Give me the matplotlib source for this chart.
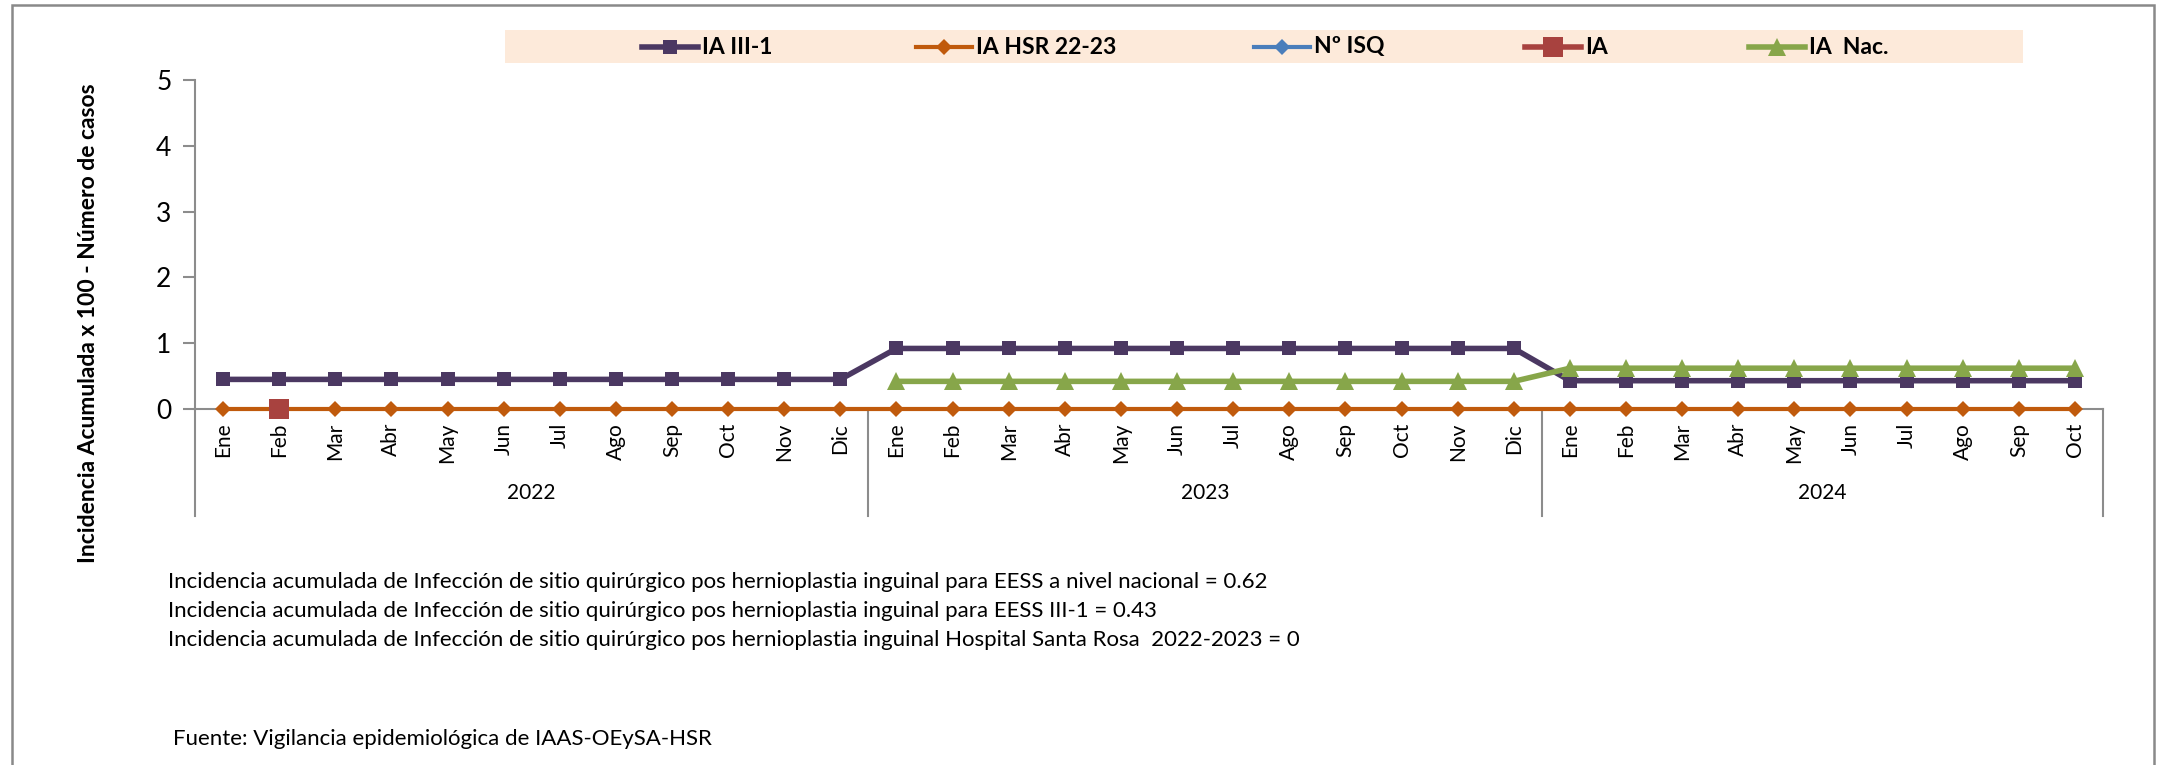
import matplotlib.pyplot as plt
from matplotlib.patches import Rectangle
from matplotlib.lines import Line2D

plt.rcParams['font.family'] = ['Lato', 'DejaVu Sans']

# Datos
meses_22 = ['Ene', 'Feb', 'Mar', 'Abr', 'May', 'Jun', 'Jul', 'Ago', 'Sep', 'Oct', 'Nov', 'Dic']
meses_23 = ['Ene', 'Feb', 'Mar', 'Abr', 'May', 'Jun', 'Jul', 'Ago', 'Sep', 'Oct', 'Nov', 'Dic']
meses_24 = ['Ene', 'Feb', 'Mar', 'Abr', 'May', 'Jun', 'Jul', 'Ago', 'Sep', 'Oct']
anios = ['2022', '2023', '2024']
meses = meses_22 + meses_23 + meses_24

ia_iii1 = [0.45] * 12 + [0.92] * 12 + [0.43] * 10
ia_hsr = [0] * 34
n_isq = [None] * 34
ia = [None, 0] + [None] * 32
ia_nac = [None] * 12 + [0.42] * 12 + [0.62] * 10

notas = [
    'Incidencia acumulada de Infección de sitio quirúrgico pos hernioplastia inguinal para EESS a nivel nacional = 0.62',
    'Incidencia acumulada de Infección de sitio quirúrgico pos hernioplastia inguinal para EESS III-1 = 0.43',
    'Incidencia acumulada de Infección de sitio quirúrgico pos hernioplastia inguinal Hospital Santa Rosa  2022-2023 = 0',
]
fuente = 'Fuente: Vigilancia epidemiológica de IAAS-OEySA-HSR'

W, H = 2158, 765
figura = plt.figure(figsize=(W / 100, H / 100), dpi=100)
figura.patches.append(Rectangle((12 / W, -0.01), (2154 - 12) / W, 1 - 5 / H + 0.01,
                                transform=figura.transFigure, fill=False,
                                edgecolor='#898989', linewidth=1.8))

ejes = figura.add_axes([195 / W, 1 - 409 / H, (2103 - 195) / W, (409 - 80) / H])
ejes.patch.set_alpha(0)
x = list(range(len(meses)))
gris = '#8c8c8c'

series = [
    ('IA III-1', ia_iii1, '#4b3862', 's', 10.5, 4.0),
    ('IA HSR 22-23', ia_hsr, '#c05a0c', 'D', 8.5, 3.0),
    ('Nº ISQ', n_isq, '#4a7ebb', 'D', 8.5, 3.0),
    ('IA', ia, '#a8423f', 's', 15, 4.0),
    ('IA  Nac.', ia_nac, '#87a64a', '^', 13, 4.0),
]
for nombre, valores, color, marcador, tam, grosor in series:
    xs = [i for i, v in zip(x, valores) if v is not None]
    ys = [v for v in valores if v is not None]
    ejes.plot(xs, ys, color=color, marker=marcador, markersize=tam, linewidth=grosor,
              markeredgewidth=0, clip_on=False, zorder=3)

ejes.set_xlim(-0.5, len(meses) - 0.5)
ejes.set_ylim(0, 5)
ejes.set_yticks(range(6))
ejes.tick_params(axis='y', direction='out', length=9, width=1.5, color=gris,
                 labelsize=19, pad=8)
ejes.set_xticks([])
for lado in ['top', 'right', 'bottom', 'left']:
    ejes.spines[lado].set_visible(False)

# eje horizontal en 0 y eje vertical extendido
abajo = -(516 - 409) / (409 - 80)
ejes.plot([-0.5, len(meses) - 0.5], [0, 0], color=gris, linewidth=1.5, clip_on=False, zorder=1)
ejes.plot([-0.5, -0.5], [0, 1], transform=ejes.get_xaxis_transform(), color=gris,
          linewidth=1.5, clip_on=False, zorder=1)

# etiquetas de meses y años
limites = [0, 12, 24, 34]
for i, mes in enumerate(meses):
    ejes.text(i, -0.042, mes, transform=ejes.get_xaxis_transform(), rotation=90,
              ha='center', va='top', fontsize=15)
for k, anio in enumerate(anios):
    ejes.plot([limites[k] - 0.5] * 2, [0, abajo], transform=ejes.get_xaxis_transform(),
              color=gris, linewidth=1.5, clip_on=False)
    ejes.text((limites[k] + limites[k + 1]) / 2 - 0.5, abajo + 0.04, anio,
              transform=ejes.get_xaxis_transform(), ha='center', va='bottom', fontsize=15)
ejes.plot([len(meses) - 0.5] * 2, [0, abajo], transform=ejes.get_xaxis_transform(),
          color=gris, linewidth=1.5, clip_on=False)

figura.text(89 / W, 1 - 323 / H, 'Incidencia Acumulada x 100 - Número de casos',
            rotation=90, ha='center', va='center', fontsize=16.5, fontweight='bold')

# leyenda
figura.patches.append(Rectangle((505 / W, 1 - 63 / H), (2023 - 505) / W, 33 / H,
                                transform=figura.transFigure, facecolor='#fdeada',
                                edgecolor='none'))
centros = [670, 944, 1282, 1553, 1777]
y_ley = 1 - 47 / H
for (nombre, valores, color, marcador, tam, grosor), c in zip(series, centros):
    figura.lines.append(Line2D([(c - 28) / W, c / W, (c + 28) / W], [y_ley] * 3,
                               transform=figura.transFigure, color=color, marker=marcador,
                               markersize=tam, markevery=[1], linewidth=grosor,
                               markeredgewidth=0))
    figura.text((c + 32) / W, y_ley, nombre, ha='left', va='center', fontsize=16.5,
                fontweight='bold')

for j, nota in enumerate(notas):
    figura.text(168 / W, 1 - (582 + 29 * j) / H, nota, ha='left', va='center', fontsize=16)
figura.text(173 / W, 1 - 739 / H, fuente, ha='left', va='center', fontsize=16)

figura.savefig('out.png', dpi=100)
plt.close(figura)
